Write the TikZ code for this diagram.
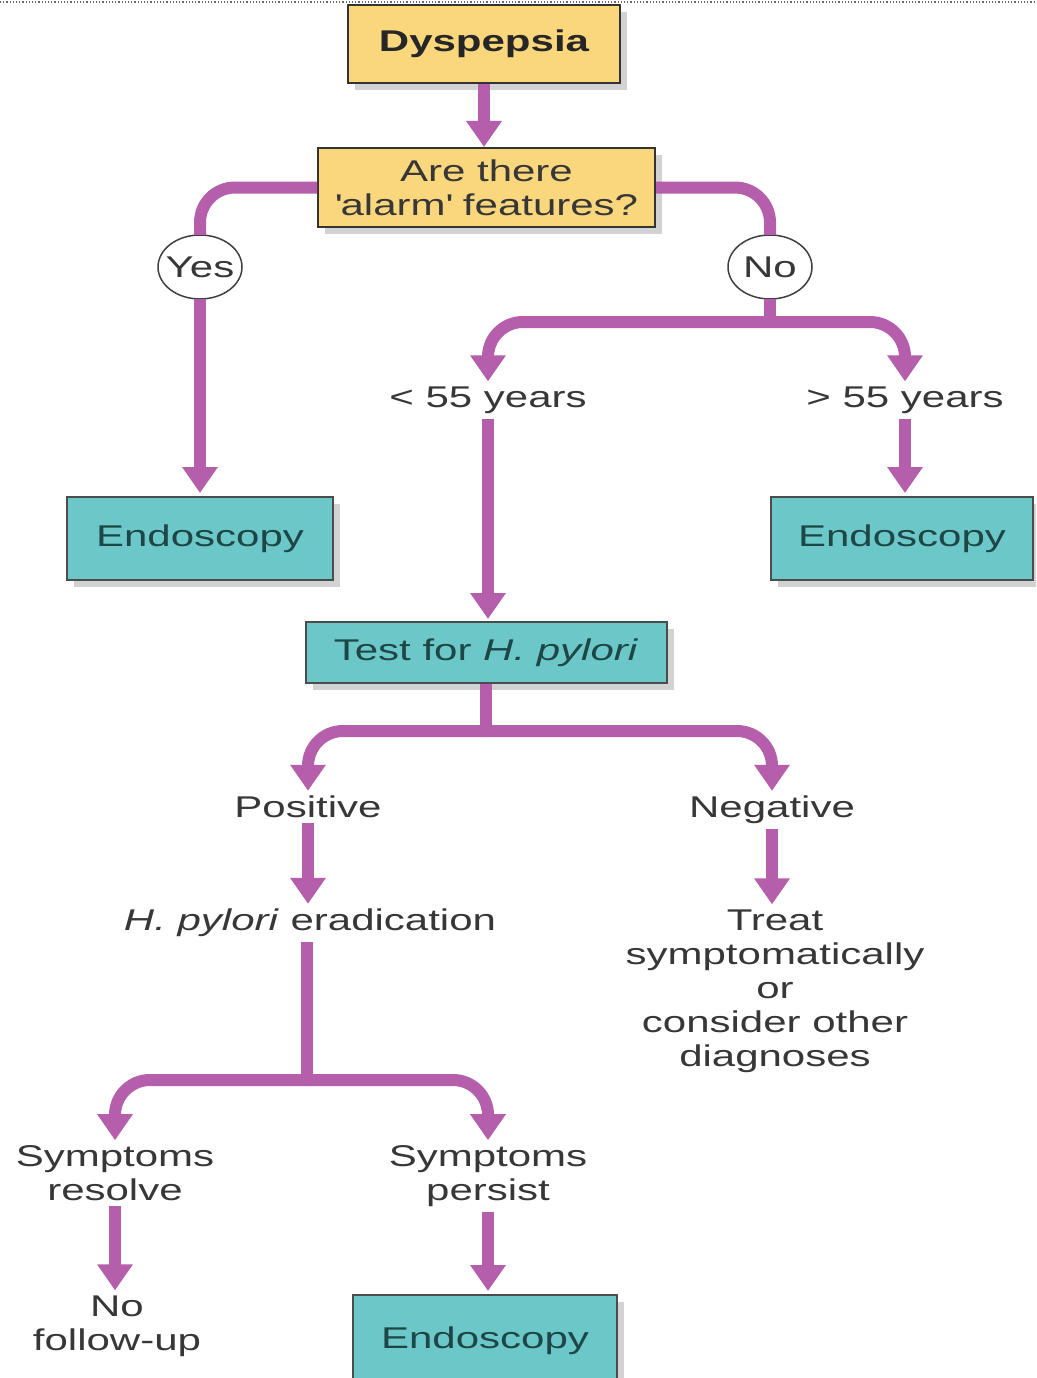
\documentclass[tikz,border=0pt]{standalone}
\usepackage{fontspec}
\setmainfont{Liberation Sans}[FakeStretch=1.4]
\usetikzlibrary{arrows.meta,shapes.geometric,shadows}
\definecolor{flowc}{RGB}{181,94,171}
\definecolor{yellowbox}{RGB}{250,215,125}
\definecolor{tealbox}{RGB}{108,200,200}
\definecolor{txt}{RGB}{55,55,55}
\definecolor{tealtxt}{RGB}{30,70,70}
\begin{document}
\begin{tikzpicture}[x=1pt,y=-1pt,
  every node/.style={font=\fontsize{30}{34}\selectfont, text=txt},
  shd/.style={drop shadow={shadow xshift=7pt, shadow yshift=-7pt, opacity=0.25, fill=black!70}},
  ybox/.style={draw=black!80, line width=2pt, fill=yellowbox, shd, inner sep=0pt, align=center},
  tbox/.style={draw=black!70, line width=2pt, fill=tealbox, shd, inner sep=0pt, text=tealtxt},
  oval/.style={rectangle, minimum width=84pt, minimum height=64pt, inner sep=0pt,
    append after command={\pgfextra{\draw[draw=black!75, line width=1.5pt, fill=white]
      (\tikzlastnode.center) ellipse [x radius=42pt, y radius=32pt];}}},
  lbl/.style={inner sep=5pt, align=center},
  flow/.style={draw=flowc, line width=12pt, rounded corners=35pt},
  flowa/.style={flow, -{Triangle[width=34pt,length=26pt]}}
]
\clip (0,0) rectangle (1036,1378);
\useasboundingbox (0,0) rectangle (1036,1378);
\fill[white] (0,0) rectangle (1036,1378);
\draw[black!60, line width=1.2pt, dotted] (0,2) -- (1036,2);

% ellipses drawn first, text on top
\draw[draw=black!75, line width=1.5pt, fill=white] (200,267) ellipse [x radius=42, y radius=32];
\draw[draw=black!75, line width=1.5pt, fill=white] (770,267) ellipse [x radius=42, y radius=32];

% nodes
\node[ybox, minimum width=272pt, minimum height=78pt, text=black!85] (dys) at (484,44) {\bfseries Dyspepsia};
\node[ybox, minimum width=337pt, minimum height=79pt] (q) at (486.5,187.5) {Are there\\\textquotesingle alarm\textquotesingle{} features?};
\node[rectangle, minimum width=84pt, minimum height=64pt, inner sep=0pt] (yes) at (200,267) {Yes};
\node[rectangle, minimum width=84pt, minimum height=64pt, inner sep=0pt] (no) at (770,267) {No};
\node[lbl] (lt55) at (488,400) {< 55 years};
\node[lbl] (gt55) at (905,400) {> 55 years};
\node[tbox, minimum width=266pt, minimum height=83pt] (endL) at (200,538.5) {Endoscopy};
\node[tbox, minimum width=262pt, minimum height=83pt] (endR) at (902,538.5) {Endoscopy};
\node[tbox, minimum width=361pt, minimum height=61pt] (test) at (486,652.5) {Test for \textit{H. pylori}};
\node[lbl] (pos) at (308,807) {Positive};
\node[lbl] (neg) at (772,810) {Negative};
\node[lbl] (erad) at (310,923) {\textit{H. pylori} eradication};
\node[lbl] (treat) at (775,991) {Treat\\symptomatically\\or\\consider other\\diagnoses};
\node[lbl] (res) at (115,1173) {Symptoms\\resolve};
\node[lbl] (per) at (488,1176) {Symptoms\\persist};
\node[lbl] (nofu) at (117,1326) {No\\follow-up};
\node[tbox, minimum width=264pt, minimum height=92pt] (endB) at (485,1341) {Endoscopy};

% junction points
\coordinate (nb) at (770,322);
\coordinate (tb) at (486,731);
\coordinate (eb) at (307,1080);

% connectors
\draw[flowa] (dys.south) -- (dys.south |- q.north);
\draw[flow] (q.west) -| (yes.north);
\draw[flowa, shorten >=3pt] (yes.south) -- (endL.north);
\draw[flow] (q.east) -| (no.north);
\draw[flow] (no.south) -- (nb);
\draw[flowa] (nb) -| (lt55.north);
\draw[flowa] (nb) -| (gt55.north);
\draw[flowa, shorten >=2pt] (lt55.south) -- (lt55.south |- test.north);
\draw[flowa, shorten >=3pt] (gt55.south) -- (gt55.south |- endR.north);
\draw[flow] (test.south) -- (tb);
\draw[flowa] (tb) -| (pos.north);
\draw[flowa] (tb) -| (neg.north);
\draw[flowa] (pos.south) -- (pos.south |- erad.north);
\draw[flowa] (neg.south) -- (neg.south |- treat.north);
\draw[flow] (erad.south -| eb) -- (eb);
\draw[flowa] (eb) -| (res.north);
\draw[flowa] (eb) -| (per.north);
\draw[flowa] (res.south) -- (res.south |- nofu.north);
\draw[flowa, shorten >=3pt] (per.south) -- (per.south |- endB.north);
\end{tikzpicture}
\end{document}
